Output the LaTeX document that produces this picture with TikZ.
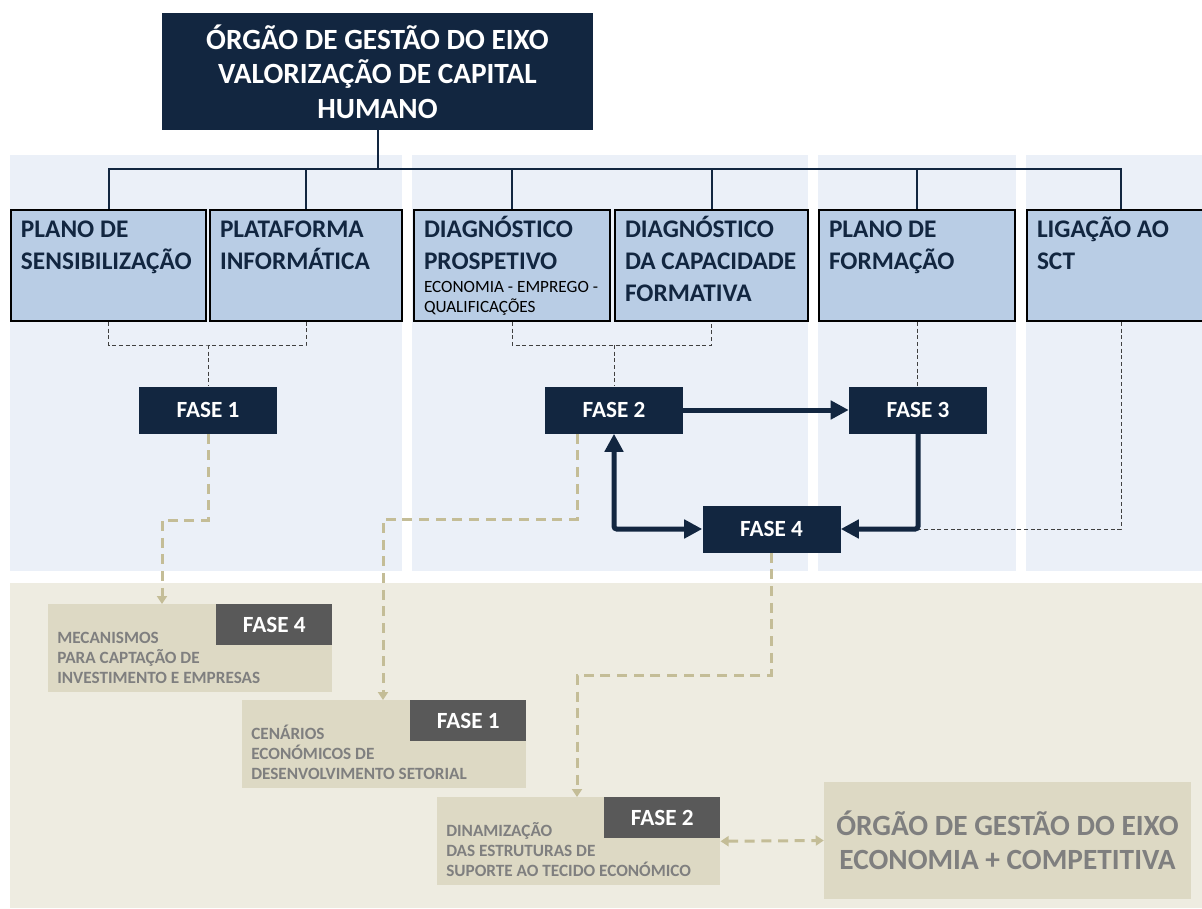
\documentclass[tikz,border=0pt]{standalone}
\usepackage{fontspec}
\setmainfont{Carlito}
\usetikzlibrary{arrows.meta}

\definecolor{navy}{RGB}{18,38,64}
\definecolor{boxblue}{RGB}{185,205,229}
\definecolor{panelblue}{RGB}{235,240,248}
\definecolor{tanback}{RGB}{238,236,225}
\definecolor{tanfill}{RGB}{221,217,196}
\definecolor{tanline}{RGB}{196,189,151}
\definecolor{greytext}{RGB}{127,127,127}
\definecolor{greylabel}{RGB}{89,89,89}
\definecolor{dotgrey}{RGB}{64,64,64}

\begin{document}
\begin{tikzpicture}[x=0.75pt,y=0.75pt,yscale=-1,xscale=1,
  headbox/.style={fill=navy,text=white,align=center,inner sep=0pt,
    minimum width=323.25pt,minimum height=87.75pt,
    font=\bfseries\fontsize{22}{25.9}\selectfont},
  unitbox/.style={draw=black,line width=1.5pt,fill=boxblue,text=navy,
    anchor=north west,align=flush left,text width=#1,inner xsep=7.5pt,inner ysep=0pt,
    text height=21pt,text depth=62.25pt,
    font=\bfseries\fontsize{19}{24}\selectfont},
  phasebox/.style={fill=navy,text=white,inner sep=0pt,
    minimum width=103.5pt,minimum height=35.25pt,
    font=\bfseries\fontsize{17.4}{20}\selectfont},
  actionbox/.style={fill=tanfill,text=greytext,anchor=north west,align=flush left,
    text width=#1,inner xsep=6.75pt,inner ysep=0pt,
    text height=29.25pt,text depth=36.75pt,
    font=\bfseries\fontsize{12.9}{15}\selectfont},
  phasetag/.style={fill=greylabel,text=white,anchor=north east,inner sep=0pt,
    minimum width=87pt,minimum height=30.75pt,
    font=\bfseries\fontsize{17.4}{20}\selectfont},
  econbox/.style={fill=tanfill,text=greytext,align=center,inner sep=0pt,
    minimum width=275.25pt,minimum height=87.75pt,
    font=\bfseries\fontsize{22}{25.5}\selectfont},
  orgline/.style={draw=navy,line width=1.5pt},
  linkline/.style={draw=dotgrey,line width=0.6pt,densely dashed},
  flowarrow/.style={draw=navy,line width=3.75pt,rounded corners=2pt,
    >={Triangle[length=13.5pt,width=13.5pt]},->},
  tanarrow/.style={draw=tanline,line width=2.25pt,dash pattern=on 7.5pt off 5pt,
    >={Triangle[length=6pt,width=7.5pt]},->}
]
%set diagram size 1202 x 909
\useasboundingbox (0,0) rectangle (1202,909);
\fill[white] (0,0) rectangle (1202,909);

%Shapes: background bands
\fill[panelblue] (10,155) rectangle (402,571);
\fill[panelblue] (412,155) rectangle (808,571);
\fill[panelblue] (818,155) rectangle (1016,571);
\fill[panelblue] (1026,155) rectangle (1202,571);
\fill[tanback] (10,583) rectangle (1202,908);

% Text Node
\node[headbox] (head) at (377.5,71.5) {ÓRGÃO DE GESTÃO DO EIXO\\VALORIZAÇÃO DE CAPITAL\\HUMANO};

% Text Node
\node[unitbox=131.25pt] (sens) at (10,209) {PLANO DE\\SENSIBILIZAÇÃO};
\node[unitbox=129pt] (plat) at (209,209) {PLATAFORMA\\INFORMÁTICA};
\node[unitbox=132pt] (prosp) at (413,209) {DIAGNÓSTICO\\PROSPETIVO\\[-6.75pt]\parbox[t]{150pt}{\raggedright\mdseries\fontsize{12.9}{15}\selectfont\leavevmode\color{black}ECONOMIA - EMPREGO -\\QUALIFICAÇÕES}};
\node[unitbox=129.75pt] (capac) at (614,209) {DIAGNÓSTICO\\DA CAPACIDADE\\FORMATIVA};
\node[unitbox=132pt] (form) at (818,209) {PLANO DE\\FORMAÇÃO};
\node[unitbox=126pt] (sct) at (1026,209) {LIGAÇÃO AO\\SCT};

% Text Node
\node[phasebox] (f1) at (208,410) {FASE 1};
\node[phasebox] (f2) at (614,410) {FASE 2};
\node[phasebox] (f3) at (918,410) {FASE 3};
\node[phasebox] (f4) at (771.5,529) {FASE 4};

% Text Node
\node[actionbox=199.5pt] (capt) at (48,604) {MECANISMOS\\PARA CAPTAÇÃO DE\\INVESTIMENTO E EMPRESAS};
\node[phasetag] (capttag) at (capt.north east) {FASE 4};
\node[actionbox=199.5pt] (cen) at (242,700) {CENÁRIOS\\ECONÓMICOS DE\\DESENVOLVIMENTO SETORIAL};
\node[phasetag] (centag) at (cen.north east) {FASE 1};
\node[actionbox=198.75pt] (din) at (437,797) {DINAMIZAÇÃO\\DAS ESTRUTURAS DE\\SUPORTE AO TECIDO ECONÓMICO};
\node[phasetag] (dintag) at (din.north east) {FASE 2};
\node[econbox] (econ) at (1007.5,840.5) {ÓRGÃO DE GESTÃO DO EIXO\\ECONOMIA + COMPETITIVA};

%Straight Lines: organigram
\coordinate (bus) at (377.5,169);
\draw[orgline] (head.south) -- (bus);
\foreach \u in {sens,plat,prosp,capac,form,sct}
  \draw[orgline] (\u.north) |- (bus);

%Straight Lines: dotted links to the phases
\coordinate (j1) at (208,345);
\coordinate (j2) at (614,345);
\draw[linkline] (sens.south) |- (j1) -| (plat.south);
\draw[linkline] (j1) -- (f1.north);
\draw[linkline] (prosp.south) |- (j2) -| (capac.south);
\draw[linkline] (j2) -- (f2.north);
\draw[linkline] (form.south) -- (form.south |- f3.north);
\coordinate (k) at (f3.south |- f4.east);
\draw[linkline] (sct.south) |- (k);

%Straight Lines: phase cycle
\draw[flowarrow] (f2.east) -- (f3.west);
\draw[flowarrow] (f3.south) |- (f4.east);
\draw[flowarrow,<->] (f2.south) |- (f4.west);

%Straight Lines: tan dashed links
\coordinate (t1) at (162,520);
\draw[tanarrow] (f1.south) |- (t1) -- (t1 |- capt.north);
\coordinate (s2) at (577,519);
\coordinate (t2) at (383,519);
\draw[tanarrow] (s2 |- f2.south) -- (s2) -- (t2) -- (t2 |- cen.north);
\coordinate (t3) at (577,675);
\draw[tanarrow] (f4.south) |- (t3) -- (t3 |- din.north);
\draw[tanarrow,<->] (din.east) -- (econ.west);

\end{tikzpicture}
\end{document}
